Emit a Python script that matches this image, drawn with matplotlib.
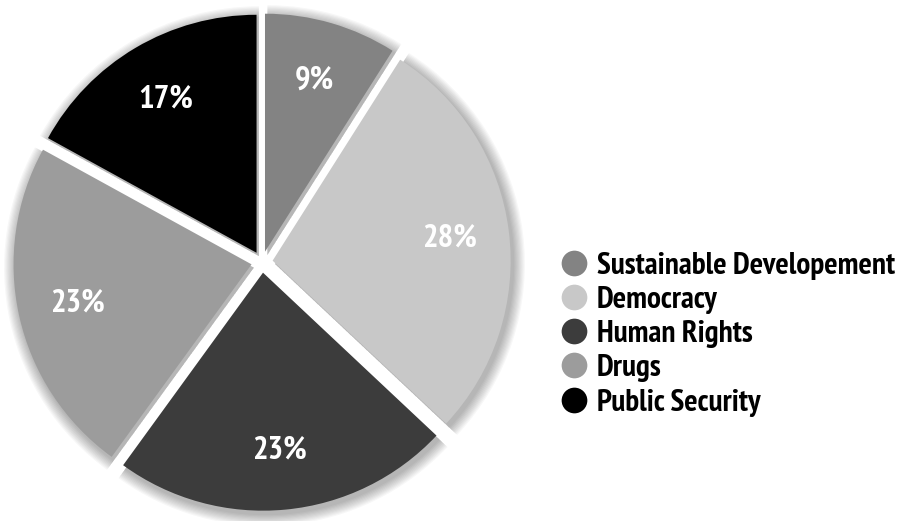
import matplotlib.pyplot as plt
from matplotlib import font_manager as fm
from matplotlib.lines import Line2D
from matplotlib.patches import Wedge

# -----------------------------
# Data
# -----------------------------
categories = ['Sustainable Developement', 'Democracy', 'Human Rights', 'Drugs', 'Public Security']
shares = [9, 28, 23, 23, 17]
colors = ['#838383', '#c8c8c8', '#3c3c3c', '#9c9c9c', '#000000']

# pick a condensed bold face close to the original
installed = {f.name for f in fm.fontManager.ttflist}
wanted = ['PT Sans Narrow', 'Fira Sans Condensed', 'Roboto Condensed', 'Open Sans Condensed',
          'Encode Sans Condensed', 'Liberation Sans Narrow', 'Arial Narrow', 'DejaVu Sans Condensed']
family = next((f for f in wanted if f in installed), 'DejaVu Sans')
plt.rcParams['font.family'] = [family, 'DejaVu Sans']

fig = plt.figure(figsize=(9.01, 5.21), dpi=100)
ax = fig.add_axes([0, 0, 1, 1])

# radius 1 == 238 px, pie centre at (262, 262) px from top-left
px = 1 / 238

explode = [0.045] * len(shares)
wedges, texts, autotexts = ax.pie(
    shares, colors=colors, startangle=90, counterclock=False,
    explode=explode, autopct='%d%%', pctdistance=0.75,
    radius=1, frame=True,
    textprops=dict(color='white', fontsize=23.5, fontweight='bold'),
    wedgeprops=dict(linewidth=0))

# soft shadow behind each slice
for w in wedges:
    cx, cy = w.center
    for i in range(10):
        s = Wedge((cx + 0.01, cy - 0.014), w.r + 0.005 * (i + 1), w.theta1, w.theta2,
                  facecolor='black', alpha=0.03, linewidth=0, zorder=w.get_zorder() - 1)
        ax.add_patch(s)

ax.set_xlim(-262 * px, (901 - 262) * px)
ax.set_ylim(-(521 - 262) * px, 262 * px)
ax.set_aspect('equal')
ax.axis('off')

handles = [Line2D([], [], marker='o', linestyle='', markersize=18.5,
                  markerfacecolor=c, markeredgewidth=0) for c in colors]
fig.legend(handles, categories, loc='upper left', bbox_to_anchor=(540 / 901, 1 - 236 / 521),
           frameon=False, handletextpad=0.12, labelspacing=0.2, borderpad=0, handlelength=1.2,
           prop=dict(size=22.5, weight='bold'))

plt.savefig('out.png', dpi=100)
